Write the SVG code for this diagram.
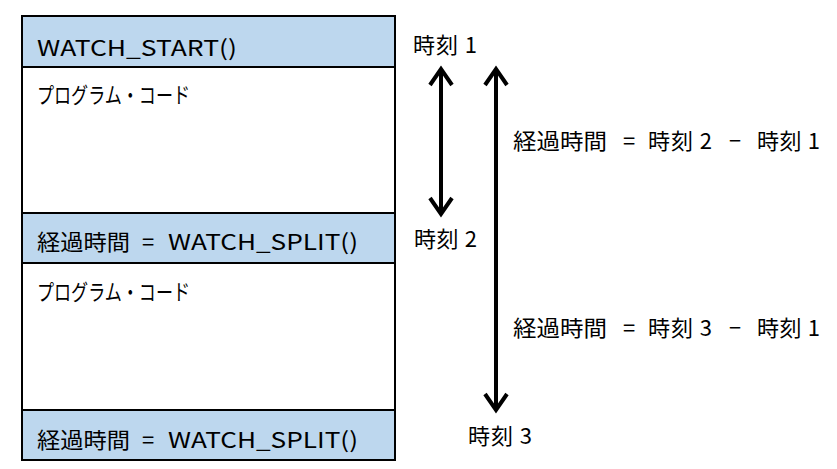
<svg xmlns="http://www.w3.org/2000/svg" width="837" height="469" viewBox="0 0 837 469">
<style>
.band{fill:#BDD7EE;stroke:none}
.frame{fill:none;stroke:#000;stroke-width:2}
.sep{stroke:#000;stroke-width:2}
text{font-family:"Noto Sans CJK JP","Noto Sans",sans-serif;font-size:22px;fill:#000}
.arrow{stroke:#000;stroke-width:4;fill:none}
</style>
<defs>
<marker id="chev" markerUnits="userSpaceOnUse" orient="auto-start-reverse" refX="0" refY="0" markerWidth="40" markerHeight="40" viewBox="-20 -20 40 40" overflow="visible">
<path d="M -16 -11 L 0 0 L -16 11" fill="none" stroke="#000" stroke-width="4" stroke-linejoin="miter"/>
</marker>
</defs>
<rect x="0" y="0" width="837" height="469" fill="#fff"/>
<g id="watch_start">
<rect class="band" x="22" y="16" width="373" height="51"/>
<text x="37" y="56" textLength="200" lengthAdjust="spacingAndGlyphs">WATCH_START()</text>
</g>
<g id="code1">
<text x="37" y="103" textLength="153" lengthAdjust="spacingAndGlyphs">プログラム・コード</text>
</g>
<g id="split1">
<rect class="band" x="22" y="213" width="373" height="50"/>
<text y="250"><tspan x="37" textLength="93" lengthAdjust="spacingAndGlyphs">経過時間</tspan> <tspan x="142">=</tspan> <tspan x="168" textLength="190" lengthAdjust="spacingAndGlyphs">WATCH_SPLIT()</tspan></text>
</g>
<g id="code2">
<text x="37" y="300" textLength="153" lengthAdjust="spacingAndGlyphs">プログラム・コード</text>
</g>
<g id="split2">
<rect class="band" x="22" y="410" width="373" height="50"/>
<text y="448"><tspan x="37" textLength="93" lengthAdjust="spacingAndGlyphs">経過時間</tspan> <tspan x="142">=</tspan> <tspan x="168" textLength="190" lengthAdjust="spacingAndGlyphs">WATCH_SPLIT()</tspan></text>
</g>
<g id="frame">
<rect class="frame" x="22" y="16" width="373" height="444"/>
<line class="sep" x1="22" y1="67" x2="395" y2="67"/>
<line class="sep" x1="22" y1="213" x2="395" y2="213"/>
<line class="sep" x1="22" y1="263" x2="395" y2="263"/>
<line class="sep" x1="22" y1="410" x2="395" y2="410"/>
</g>
<g id="time1"><text x="413" y="53" textLength="64" lengthAdjust="spacing">時刻 1</text></g>
<g id="time2"><text x="414" y="247" textLength="63" lengthAdjust="spacing">時刻 2</text></g>
<g id="time3"><text x="468" y="444" textLength="64" lengthAdjust="spacing">時刻 3</text></g>
<g id="elapsed12"><text y="149"><tspan x="513" textLength="94" lengthAdjust="spacingAndGlyphs">経過時間</tspan> <tspan x="623">=</tspan> <tspan x="648" textLength="64" lengthAdjust="spacing">時刻 2</tspan> <tspan x="729" textLength="12" lengthAdjust="spacingAndGlyphs">−</tspan> <tspan x="757" textLength="63" lengthAdjust="spacing">時刻 1</tspan></text></g>
<g id="elapsed13"><text y="336"><tspan x="513" textLength="94" lengthAdjust="spacingAndGlyphs">経過時間</tspan> <tspan x="623">=</tspan> <tspan x="648" textLength="64" lengthAdjust="spacing">時刻 3</tspan> <tspan x="729" textLength="12" lengthAdjust="spacingAndGlyphs">−</tspan> <tspan x="757" textLength="63" lengthAdjust="spacing">時刻 1</tspan></text></g>
<g id="connectors">
<line class="arrow" x1="441" y1="69" x2="441" y2="214" marker-start="url(#chev)" marker-end="url(#chev)"/>
<line class="arrow" x1="496" y1="69" x2="496" y2="410" marker-start="url(#chev)" marker-end="url(#chev)"/>
</g>
</svg>
